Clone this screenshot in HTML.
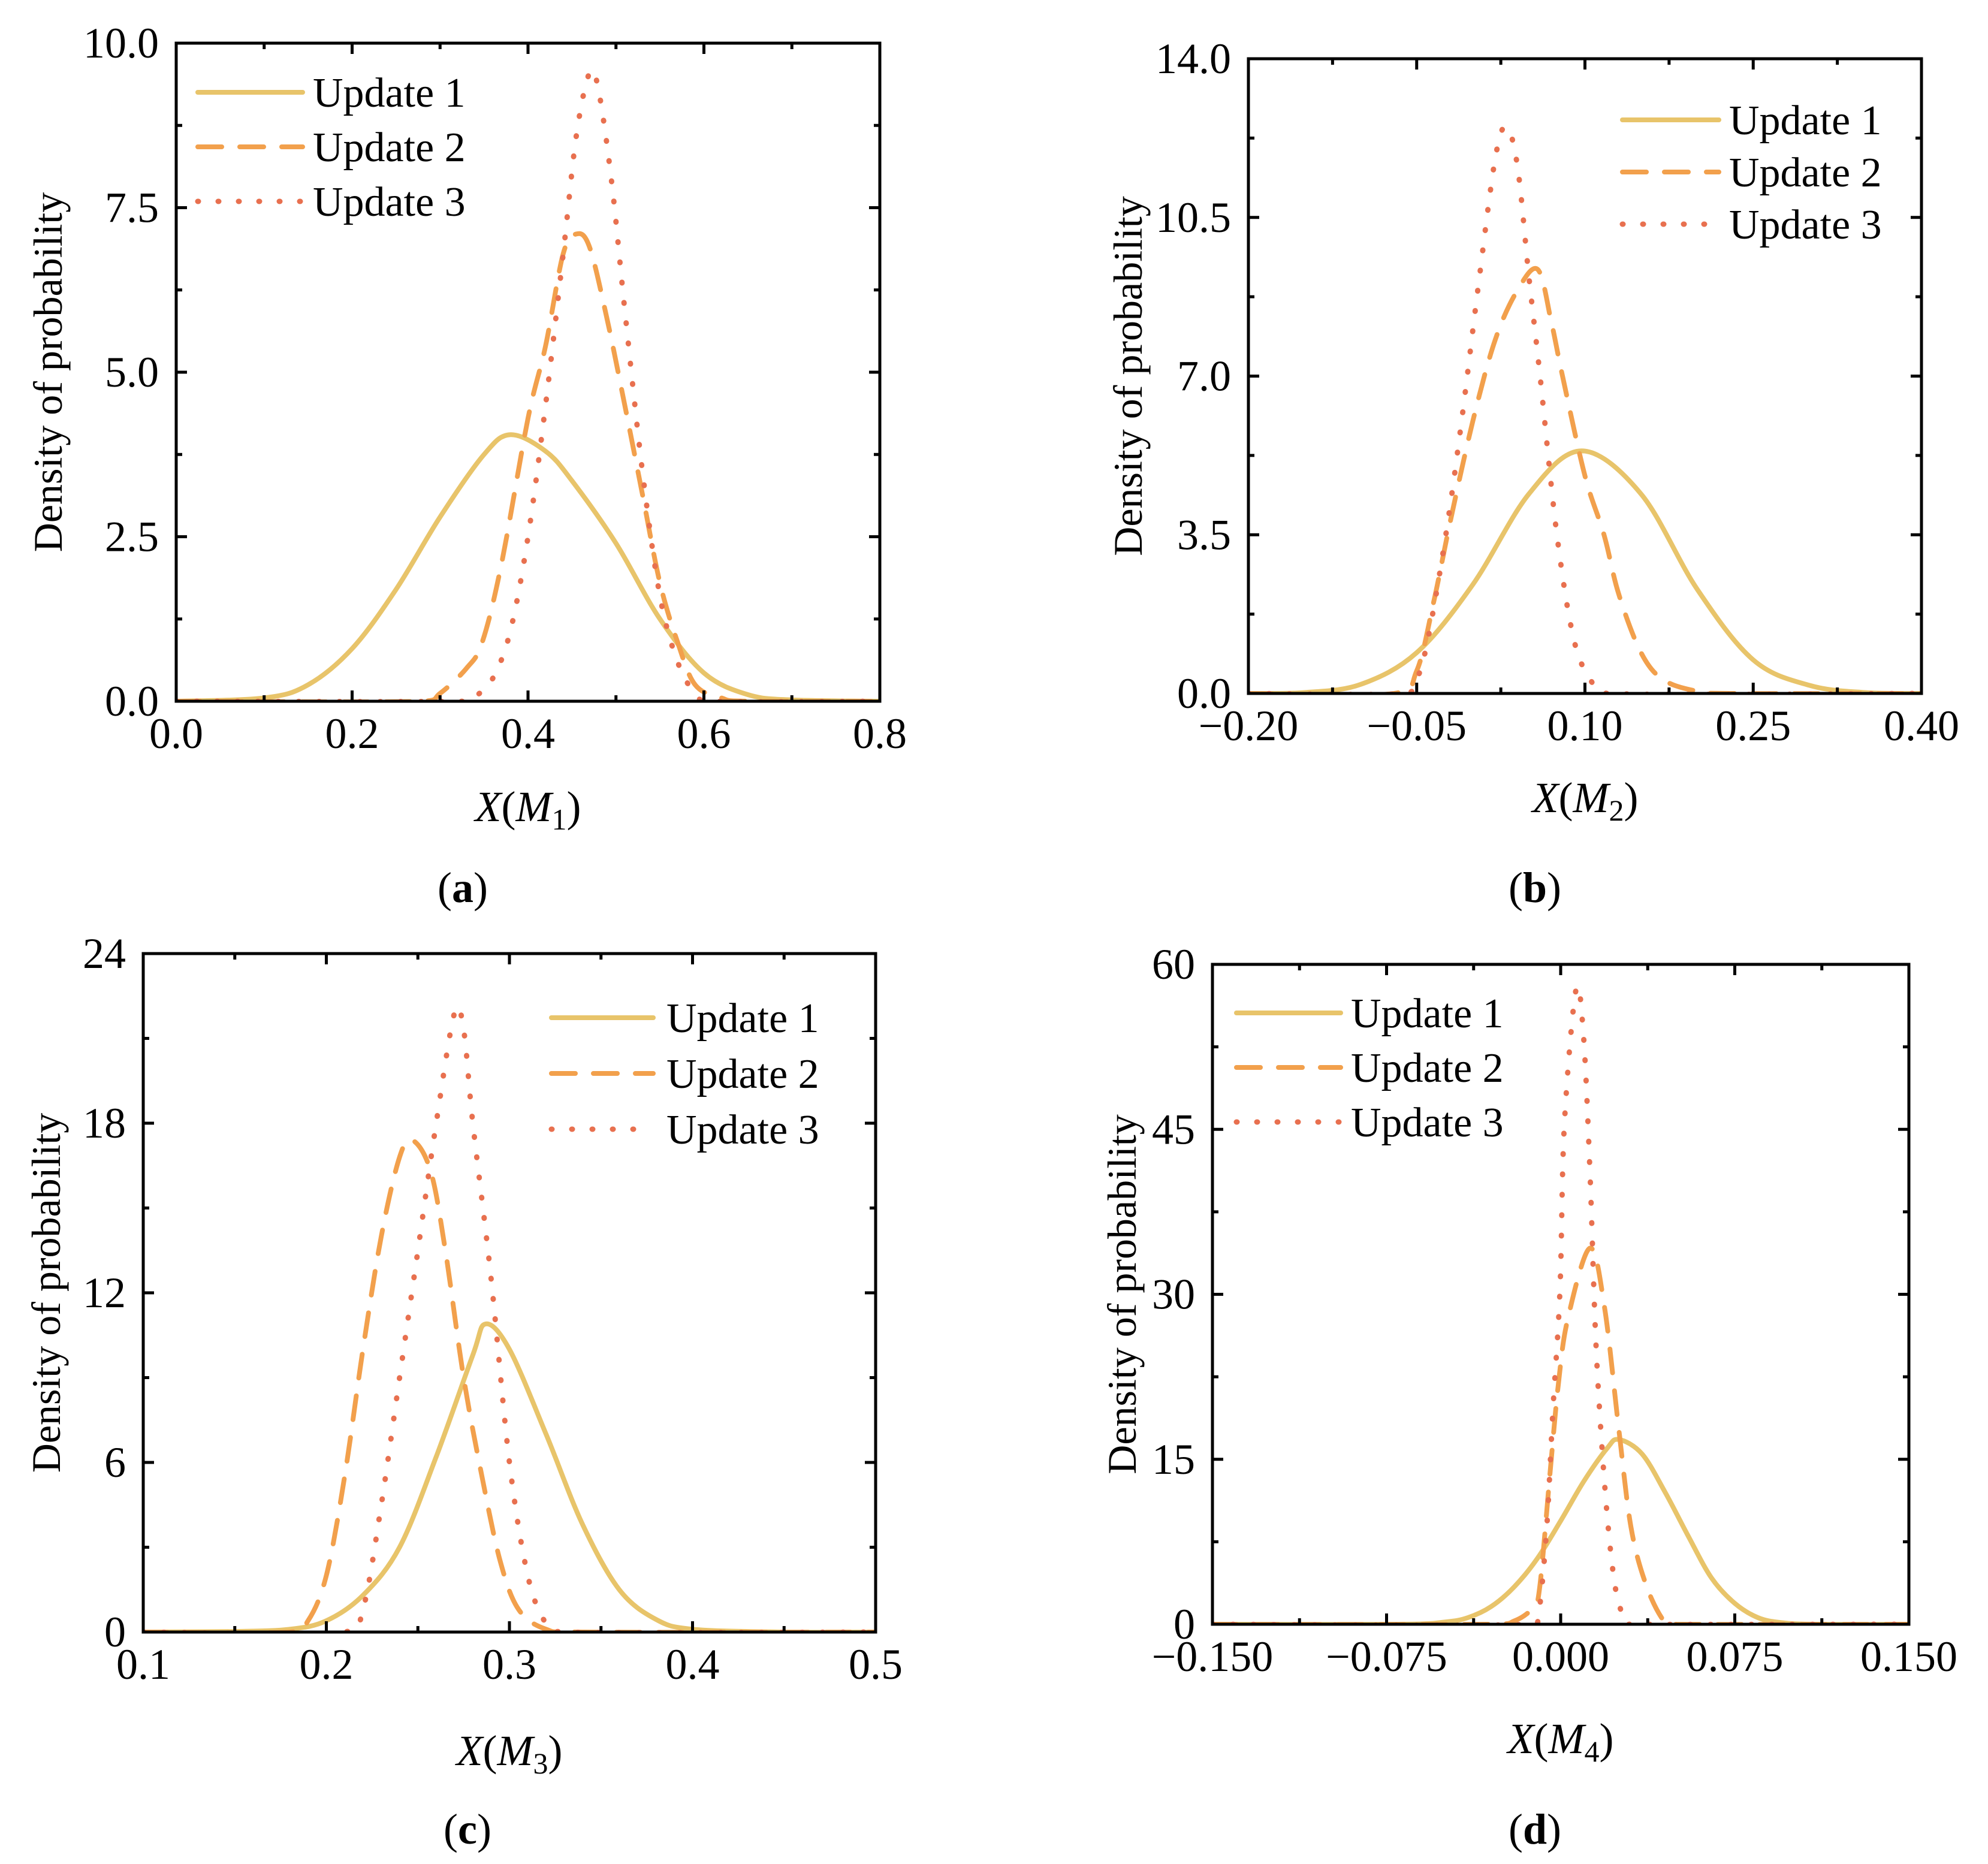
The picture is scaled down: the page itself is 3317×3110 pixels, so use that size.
<!DOCTYPE html>
<html><head><meta charset="utf-8">
<style>
html,body{margin:0;padding:0;background:#fff;}
svg{display:block;}
text{font-family:"Liberation Serif","DejaVu Serif",serif;fill:#000;}
</style></head>
<body>
<svg id="fig" width="3317" height="3110" viewBox="0 0 3317 3110" xmlns="http://www.w3.org/2000/svg"></svg>
<script>
// ---- Panel (a) data ----
const aU1x=[0,0.1,0.15,0.2,0.25,0.3,0.35,0.38,0.42,0.45,0.5,0.55,0.6,0.65,0.7,0.8];
const aU1y=[0,0.05,0.25,0.8,1.7,2.8,3.75,4.05,3.8,3.35,2.4,1.25,0.43,0.1,0.02,0];
const aU2x=[0,0.28,0.3,0.33,0.348,0.37,0.4,0.42,0.44,0.455,0.47,0.49,0.51,0.53,0.55,0.57,0.59,0.62,0.65,0.8];
const aU2y=[0,0,0.12,0.5,0.9,2.1,4.3,5.4,6.8,7.1,6.9,5.8,4.5,3.15,1.8,0.9,0.25,0.05,0,0];
const aU3x=[0,0.33,0.34,0.36,0.38,0.4,0.42,0.44,0.455,0.47,0.48,0.495,0.51,0.53,0.55,0.57,0.59,0.61,0.8];
const aU3y=[0,0,0.07,0.35,1.07,2.5,4.5,6.8,8.6,9.55,9.3,7.9,5.95,3.5,1.6,0.6,0.12,0,0];
const aXTicks=[0,0.2,0.4,0.6,0.8];
const aXLabels=["0.0","0.2","0.4","0.6","0.8"];
const aYTicks=[0,2.5,5,7.5,10];
const aYLabels=["0.0","2.5","5.0","7.5","10.0"];
// ---- Panel (b) data ----
const bU1x=[-0.2,-0.15,-0.1,-0.05,0,0.05,0.097,0.15,0.2,0.25,0.3,0.35,0.4];
const bU1y=[0,0.02,0.2,0.9,2.4,4.4,5.35,4.4,2.3,0.74,0.18,0.02,0];
const bU2x=[-0.2,-0.07,-0.05,-0.035,-0.02,0,0.02,0.04,0.058,0.07,0.08,0.1,0.117,0.13,0.15,0.17,0.2,0.23,0.4];
const bU2y=[0,0,0.5,2.0,3.8,6.0,7.8,8.9,9.35,8.2,7.0,4.8,3.5,2.2,0.9,0.3,0.05,0,0];
const bU3x=[-0.2,-0.06,-0.05,-0.04,-0.024,-0.01,0.005,0.02,0.03,0.04,0.05,0.06,0.075,0.09,0.105,0.12,0.4];
const bU3y=[0,0,0.3,1.2,3.5,6.0,9.0,11.8,12.5,11.6,9.2,7.0,3.5,1.2,0.3,0,0];
const bXTicks=[-0.2,-0.05,0.1,0.25,0.4];
const bXLabels=["\u22120.20","\u22120.05","0.10","0.25","0.40"];
const bYTicks=[0,3.5,7,10.5,14];
const bYLabels=["0.0","3.5","7.0","10.5","14.0"];
// ---- Panel (c) data ----
const cU1x=[0.1,0.15,0.18,0.2,0.22,0.24,0.26,0.28,0.287,0.3,0.32,0.34,0.36,0.38,0.4,0.45,0.5];
const cU1y=[0,0.02,0.1,0.4,1.3,3.0,6.2,9.8,10.9,10.0,7.0,3.8,1.5,0.45,0.1,0,0];
const cU2x=[0.1,0.18,0.19,0.2,0.21,0.22,0.23,0.24,0.247,0.257,0.265,0.275,0.285,0.295,0.305,0.32,0.34,0.5];
const cU2y=[0,0,0.4,2.0,5.5,10,14,16.8,17.4,16.3,13.5,9,5.5,2.5,0.8,0.1,0,0];
const cU3x=[0.1,0.21,0.22,0.23,0.24,0.25,0.26,0.27,0.275,0.28,0.29,0.3,0.31,0.32,0.33,0.5];
const cU3y=[0,0,0.8,4.5,9,13.5,18,21.9,21.3,18,12.5,6,2,0.3,0,0];
const cXTicks=[0.1,0.2,0.3,0.4,0.5];
const cXLabels=["0.1","0.2","0.3","0.4","0.5"];
const cYTicks=[0,6,12,18,24];
const cYLabels=["0","6","12","18","24"];
// ---- Panel (d) data ----
const dU1x=[-0.15,-0.07,-0.05,-0.04,-0.03,-0.02,-0.01,0,0.01,0.02,0.025,0.035,0.045,0.055,0.065,0.075,0.085,0.095,0.11,0.15];
const dU1y=[0,0,0.2,0.6,1.6,3.4,6.0,9.4,13,16,16.8,15.5,12,8,4.2,1.9,0.6,0.15,0,0];
const dU2x=[-0.15,-0.03,-0.02,-0.012,-0.009,-0.0044,-0.001,0.003,0.0126,0.0189,0.0249,0.0303,0.0371,0.0448,0.05,0.15];
const dU2y=[0,0,0.3,1.5,3.4,14.2,21.8,27.7,34.2,28.8,18,8.8,3.4,0.2,0,0];
const dU3x=[-0.15,-0.012,-0.0093,-0.006,-0.0033,-0.0003,0.0016,0.0066,0.0098,0.0126,0.0153,0.0194,0.0235,0.028,0.03,0.15];
const dU3y=[0,0,1.2,8.8,19.6,30.4,45.5,57.7,53.6,41.2,25,11.5,3.4,0.2,0,0.0];
const dXTicks=[-0.15,-0.075,0,0.075,0.15];
const dXLabels=["\u22120.150","\u22120.075","0.000","0.075","0.150"];
const dYTicks=[0,15,30,45,60];
const dYLabels=["0","15","30","45","60"];

const NS="http://www.w3.org/2000/svg";
const svg=document.getElementById('fig');
const COLORS=["#E8C46A","#F2A04C","#E8704F"];
const DASH=[null,"40 30","1 33"];
const WID=[8,8,9];

function mk(tag,attrs,parent){const e=document.createElementNS(NS,tag);for(const k in attrs)e.setAttribute(k,attrs[k]);(parent||svg).appendChild(e);return e;}

function smoothPath(px,py){
  let d="M"+px[0].toFixed(1)+","+py[0].toFixed(1);
  for(let i=0;i<px.length-1;i++){
    const x0=px[Math.max(0,i-1)],y0=py[Math.max(0,i-1)];
    const x1=px[i],y1=py[i],x2=px[i+1],y2=py[i+1];
    const x3=px[Math.min(px.length-1,i+2)],y3=py[Math.min(px.length-1,i+2)];
    let c1x=x1+(x2-x0)/6,c1y=y1+(y2-y0)/6,c2x=x2-(x3-x1)/6,c2y=y2-(y3-y1)/6;
    c1x=Math.max(x1,Math.min(x2,c1x));c2x=Math.max(x1,Math.min(x2,c2x));
    d+=" C"+c1x.toFixed(1)+","+c1y.toFixed(1)+" "+c2x.toFixed(1)+","+c2y.toFixed(1)+" "+x2.toFixed(1)+","+y2.toFixed(1);
  }
  return d;
}

function panel(p){
  const g=mk('g',{});
  
  
  const sx=v=>p.L+(v-p.x0)/(p.x1-p.x0)*(p.R-p.L);
  const sy=v=>p.B-(v-p.y0)/(p.y1-p.y0)*(p.B-p.T);
  const cid='clip-'+p.id;
  const cp=mk('clipPath',{id:cid},g);mk('rect',{x:p.L,y:p.T-10,width:p.R-p.L,height:p.B-p.T+10},cp);
  const cg=mk('g',{'clip-path':'url(#'+cid+')'},g);
  const names=['update-1','update-2','update-3'];
  p.series.forEach((s,i)=>{
    const px=s[0].map(sx),py=s[1].map(v=>sy(Math.max(0,v)));
    const path=mk('path',{d:smoothPath(px,py),fill:'none',stroke:COLORS[i],'stroke-width':WID[i],'stroke-linecap':'round','stroke-linejoin':'round'},cg);
    if(DASH[i])path.setAttribute('stroke-dasharray',DASH[i]);
    
    
  });
  const tg=mk('g',{stroke:'#000','stroke-width':5},g);
  
  
  const xs=p.xTicks, ys=p.yTicks;
  const xm=(xs[1]-xs[0])/2, ym=(ys[1]-ys[0])/2;
  for(let i=0;i<xs.length;i++){
    [[xs[i],18]].concat(i<xs.length-1?[[xs[i]+xm,10]]:[]).forEach(([v,len])=>{
      const X=sx(v);
      mk('line',{x1:X,y1:p.B,x2:X,y2:p.B-len},tg);
      mk('line',{x1:X,y1:p.T,x2:X,y2:p.T+len},tg);
    });
  }
  for(let i=0;i<ys.length;i++){
    [[ys[i],18]].concat(i<ys.length-1?[[ys[i]+ym,10]]:[]).forEach(([v,len])=>{
      const Y=sy(v);
      mk('line',{x1:p.L,y1:Y,x2:p.L+len,y2:Y},tg);
      mk('line',{x1:p.R,y1:Y,x2:p.R-len,y2:Y},tg);
    });
  }
  const frame=mk('rect',{x:p.L,y:p.T,width:p.R-p.L,height:p.B-p.T,fill:'none',stroke:'#000','stroke-width':5},g);
  
  
  xs.forEach((v,i)=>{
    const t=mk('text',{x:sx(v),y:p.B+78,'font-size':72,'text-anchor':'middle'},g);t.textContent=p.xLabels[i];
    
    
  });
  ys.forEach((v,i)=>{
    const t=mk('text',{x:p.L-29,y:sy(v)+24,'font-size':72,'text-anchor':'end'},g);t.textContent=p.yLabels[i];
    
    
  });
  const xt=mk('text',{x:p.xtX,y:p.xtY,'font-size':72,'text-anchor':'middle'},g);
  xt.innerHTML='<tspan font-style="italic">X</tspan>(<tspan font-style="italic">M</tspan><tspan font-size="50" dy="14">'+p.sub+'</tspan><tspan dy="-14">)</tspan>';
  
  
  const yt=mk('text',{x:0,y:0,'font-size':68,'text-anchor':'middle',transform:'translate('+p.ytX+','+((p.T+p.B)/2)+') rotate(-90)'},g);
  yt.textContent='Density of probability';
  
  
  const lg=mk('g',{},g);
  
  
  ['Update 1','Update 2','Update 3'].forEach((n,i)=>{
    const Y=p.legY+i*p.legDy;
    const ln=mk('line',{x1:p.legX1,y1:Y,x2:p.legX2,y2:Y,stroke:COLORS[i],'stroke-width':WID[i],'stroke-linecap':'round'},lg);
    if(DASH[i])ln.setAttribute('stroke-dasharray',DASH[i]);
    
    
    const t=mk('text',{x:p.legTX,y:Y+24,'font-size':70},lg);t.textContent=n;
    
    
  });
  const cap=mk('text',{x:p.capX,y:p.capY+24,'font-size':72,'text-anchor':'middle'},g);
  cap.innerHTML='(<tspan font-weight="bold">'+p.id+'</tspan>)';
  
  
}

panel({id:'a',L:294,R:1468,T:72,B:1170,x0:0,x1:0.8,y0:0,y1:10,
  series:[[aU1x,aU1y],[aU2x,aU2y],[aU3x,aU3y]],
  xTicks:aXTicks,xLabels:aXLabels,yTicks:aYTicks,yLabels:aYLabels,
  xtX:881,xtY:1370,sub:'1',ytX:103,legY:154,legDy:91,legX1:330,legX2:505,legTX:522,capX:772,capY:1481});
panel({id:'b',L:2083,R:3206,T:98,B:1157,x0:-0.2,x1:0.4,y0:0,y1:14,
  series:[[bU1x,bU1y],[bU2x,bU2y],[bU3x,bU3y]],
  xTicks:bXTicks,xLabels:bXLabels,yTicks:bYTicks,yLabels:bYLabels,
  xtX:2645,xtY:1355,sub:'2',ytX:1905,legY:200,legDy:87,legX1:2707,legX2:2868,legTX:2885,capX:2561,capY:1481});
panel({id:'c',L:239,R:1461,T:1591,B:2723,x0:0.1,x1:0.5,y0:0,y1:24,
  series:[[cU1x,cU1y],[cU2x,cU2y],[cU3x,cU3y]],
  xTicks:cXTicks,xLabels:cXLabels,yTicks:cYTicks,yLabels:cYLabels,
  xtX:850,xtY:2945,sub:'3',ytX:100,legY:1698,legDy:93,legX1:920,legX2:1090,legTX:1112,capX:780,capY:3052});
panel({id:'d',L:2023,R:3185,T:1609,B:2710,x0:-0.15,x1:0.15,y0:0,y1:60,
  series:[[dU1x,dU1y],[dU2x,dU2y],[dU3x,dU3y]],
  xTicks:dXTicks,xLabels:dXLabels,yTicks:dYTicks,yLabels:dYLabels,
  xtX:2604,xtY:2925,sub:'4',ytX:1895,legY:1690,legDy:91,legX1:2063,legX2:2237,legTX:2254,capX:2561,capY:3052});
</script>
</body></html>
